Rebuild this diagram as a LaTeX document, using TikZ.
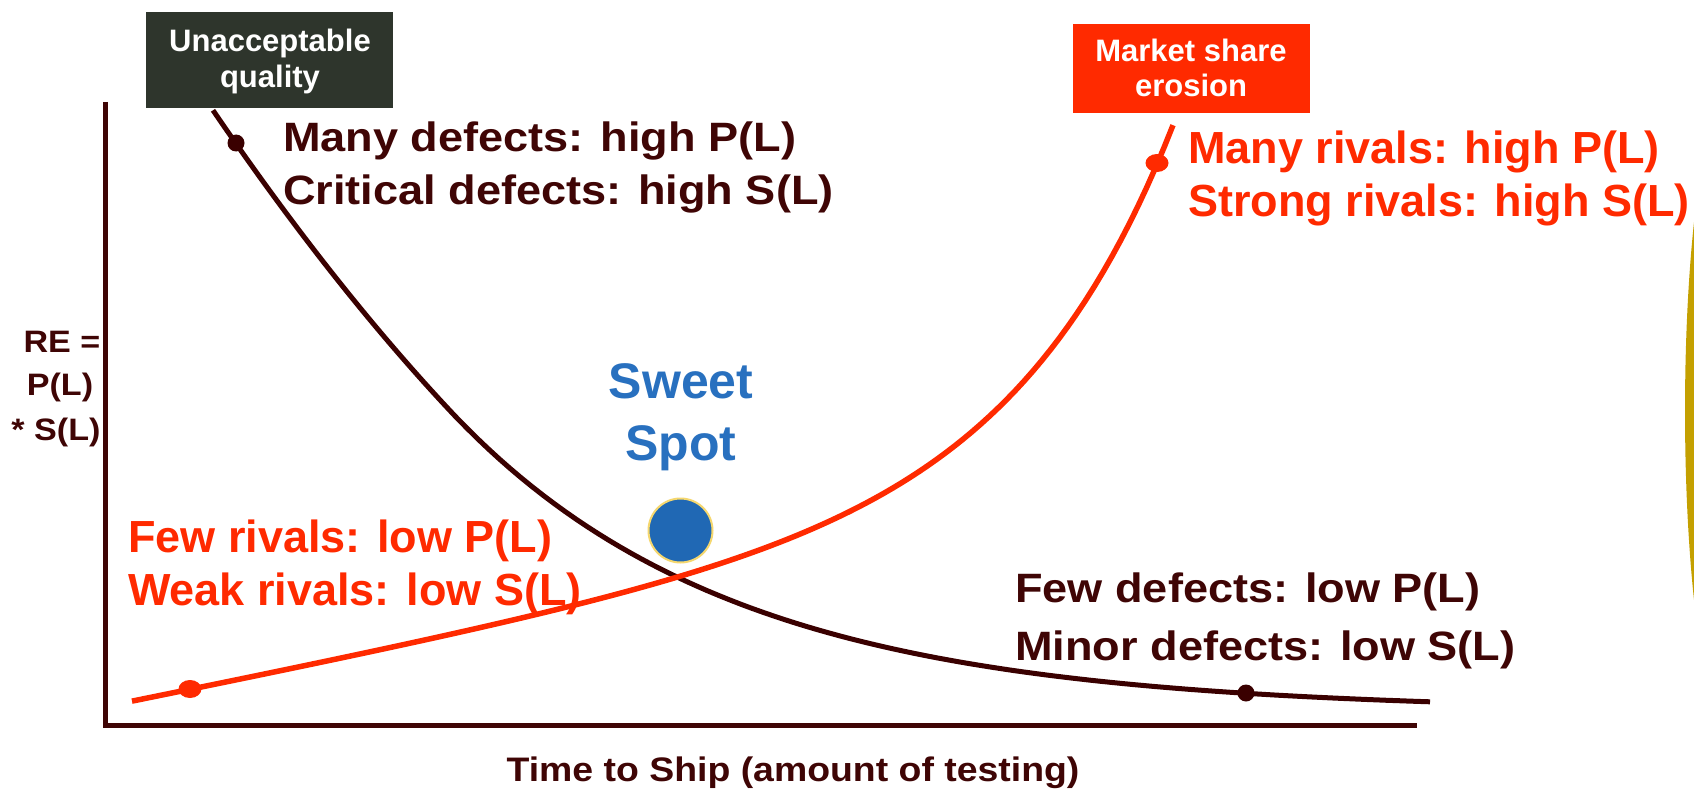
\documentclass[tikz,border=0pt]{standalone}
\usepackage{fontspec}
\usetikzlibrary{shapes.geometric}
\setmainfont{Liberation Sans}
\newfontfamily\darkfont[FakeStretch=1.1]{Liberation Sans}
\definecolor{cMaroon}{HTML}{3F0505}
\definecolor{cCurve}{HTML}{3A0000}
\definecolor{cRed}{HTML}{FF2A00}
\definecolor{cBox}{HTML}{2E352C}
\definecolor{cBlue}{HTML}{2870BF}
\definecolor{cDot}{HTML}{2068B4}
\definecolor{cRing}{HTML}{F5D76E}
\definecolor{cGold}{HTML}{C4A000}
\begin{document}
\begin{tikzpicture}[x=1pt,y=-1pt,
  dk/.style={font=\darkfont\bfseries\fontsize{41}{49}\selectfont, text=cMaroon, inner sep=0pt, anchor=base west},
  rd/.style={font=\bfseries\fontsize{45}{54}\selectfont, text=cRed, inner sep=0pt, anchor=base west},
  ylab/.style={font=\darkfont\bfseries\fontsize{31}{37}\selectfont, text=cMaroon, inner sep=0pt, anchor=base},
  xlab/.style={font=\darkfont\bfseries\fontsize{34}{40}\selectfont, text=cMaroon, inner sep=0pt, anchor=base},
  boxtxt/.style={font=\bfseries\fontsize{#1}{#1}\selectfont, text=white, inner sep=0pt, anchor=base},
  sweet/.style={font=\bfseries\fontsize{50}{60}\selectfont, text=cBlue, inner sep=0pt, anchor=base},
  axisline/.style={draw=cMaroon, line width=5pt},
  blackcurve/.style={draw=cCurve, line width=5pt},
  redcurve/.style={draw=cRed, line width=5.5pt},
  bdot/.style={circle, fill=cCurve, inner sep=0pt, minimum size=17pt},
  rdot/.style={ellipse, fill=cRed, inner sep=0pt, minimum width=23pt, minimum height=18pt}
]
\clip (0,0) rectangle (1694,789);
\useasboundingbox (0,0) rectangle (1694,789);
\fill[white] (0,0) rectangle (1694,789);

% gold shape at right edge
\fill[cGold] (1735,411) ellipse [x radius=50, y radius=330];

% boxes
\fill[cBox] (146,12) rectangle (393,108);
\node[boxtxt=31] (ua1) at (270,52) {Unacceptable};
\node[boxtxt=31] (ua2) at (270,88) {quality};
\fill[cRed] (1073,24) rectangle (1310,113);
\node[boxtxt=31] (ms1) at (1191,62) {Market share};
\node[boxtxt=31] (ms2) at (1191,97) {erosion};

% axes
\coordinate (ytop) at (105,102);
\coordinate (origin) at (105,725);
\coordinate (xend) at (1417,725);
\draw[axisline] (ytop) -- (origin) -- (xend);

% curves
\draw[blackcurve] plot[domain=213:455, samples=40] (\x,{416-1.06*(455-\x)-8.4*((455-\x)/100)^2})
  -- plot[domain=455:1430, samples=90] (\x,{711-295*exp(-0.00355*(\x-455))});
\draw[redcurve] plot[domain=132:1173, samples=120] (\x,{728-0.2*\x-21*exp(0.0064*(\x-725))});

% dots
\node[bdot] (d1) at (236,143) {};
\node[bdot] (d2) at (1246,693) {};
\node[rdot] (d3) at (190,689) {};
\node[rdot] (d4) at (1157,163) {};

% sweet spot
\node[circle, fill=cDot, draw=cRing, line width=2pt, minimum size=64pt, inner sep=0pt] (ss) at (680.5,530.5) {};
\node[sweet] (sw1) at (681,398) {Sweet};
\node[sweet] (sw2) at (681,460) {Spot};

% texts
\node[dk] (t1) at (283,151) {Many defects: high P(L)};
\node[dk] (t2) at (283,204) {Critical defects: high S(L)};
\node[dk] (t3) at (1015,602) {Few defects: low P(L)};
\node[dk] (t4) at (1015,660) {Minor defects: low S(L)};
\node[rd] (t5) at (128,552) {Few rivals: low P(L)};
\node[rd] (t6) at (128,605) {Weak rivals: low S(L)};
\node[rd] (t7) at (1188,164) {Many rivals: high P(L)};
\node[rd] (t8) at (1188,216) {Strong rivals: high S(L)};

% axis labels
\node[ylab] (y1) at (62,352) {RE =};
\node[ylab] (y2) at (60,395) {P(L)};
\node[ylab] (y3) at (56,440) {* S(L)};
\node[xlab] (xl) at (793,781) {Time to Ship (amount of testing)};
\end{tikzpicture}
\end{document}
